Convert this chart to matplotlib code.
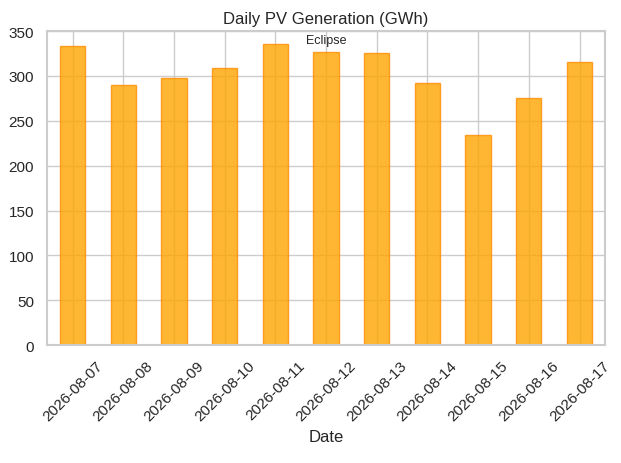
import matplotlib
matplotlib.use("Agg")
import matplotlib.pyplot as plt
import seaborn as sns

dates = ["2026-08-07", "2026-08-08", "2026-08-09", "2026-08-10", "2026-08-11",
         "2026-08-12", "2026-08-13", "2026-08-14", "2026-08-15", "2026-08-16",
         "2026-08-17"]
gen_gwh = [333, 290, 298, 309, 335, 327, 326, 292, 234, 275, 316]
note_date = "2026-08-12"
note_text = "Eclipse"

sns.set_theme(style="whitegrid")
plt.rcParams["font.family"] = ["Liberation Sans", "DejaVu Sans"]
fig, ax = plt.subplots(figsize=(6.21, 4.64), dpi=100)
x = range(len(dates))
ax.bar(x, gen_gwh, width=0.5, color="orange", alpha=0.8, edgecolor="darkorange")
ax.set_xticks(list(x))
ax.set_xticklabels(dates, rotation=45)
ax.set_xlim(-0.5, len(dates) - 0.5)
ax.set_ylim(0, 350)
ax.set_title("Daily PV Generation (GWh)")
ax.set_xlabel("Date")
i = dates.index(note_date)
ax.text(i, 340, note_text, ha="center", va="center", fontsize=9)
for s in ax.spines.values():
    s.set_color("#cccccc")
    s.set_linewidth(1.5)
fig.subplots_adjust(left=0.076, right=0.974, top=0.931, bottom=0.254)
fig.savefig("out.png")
